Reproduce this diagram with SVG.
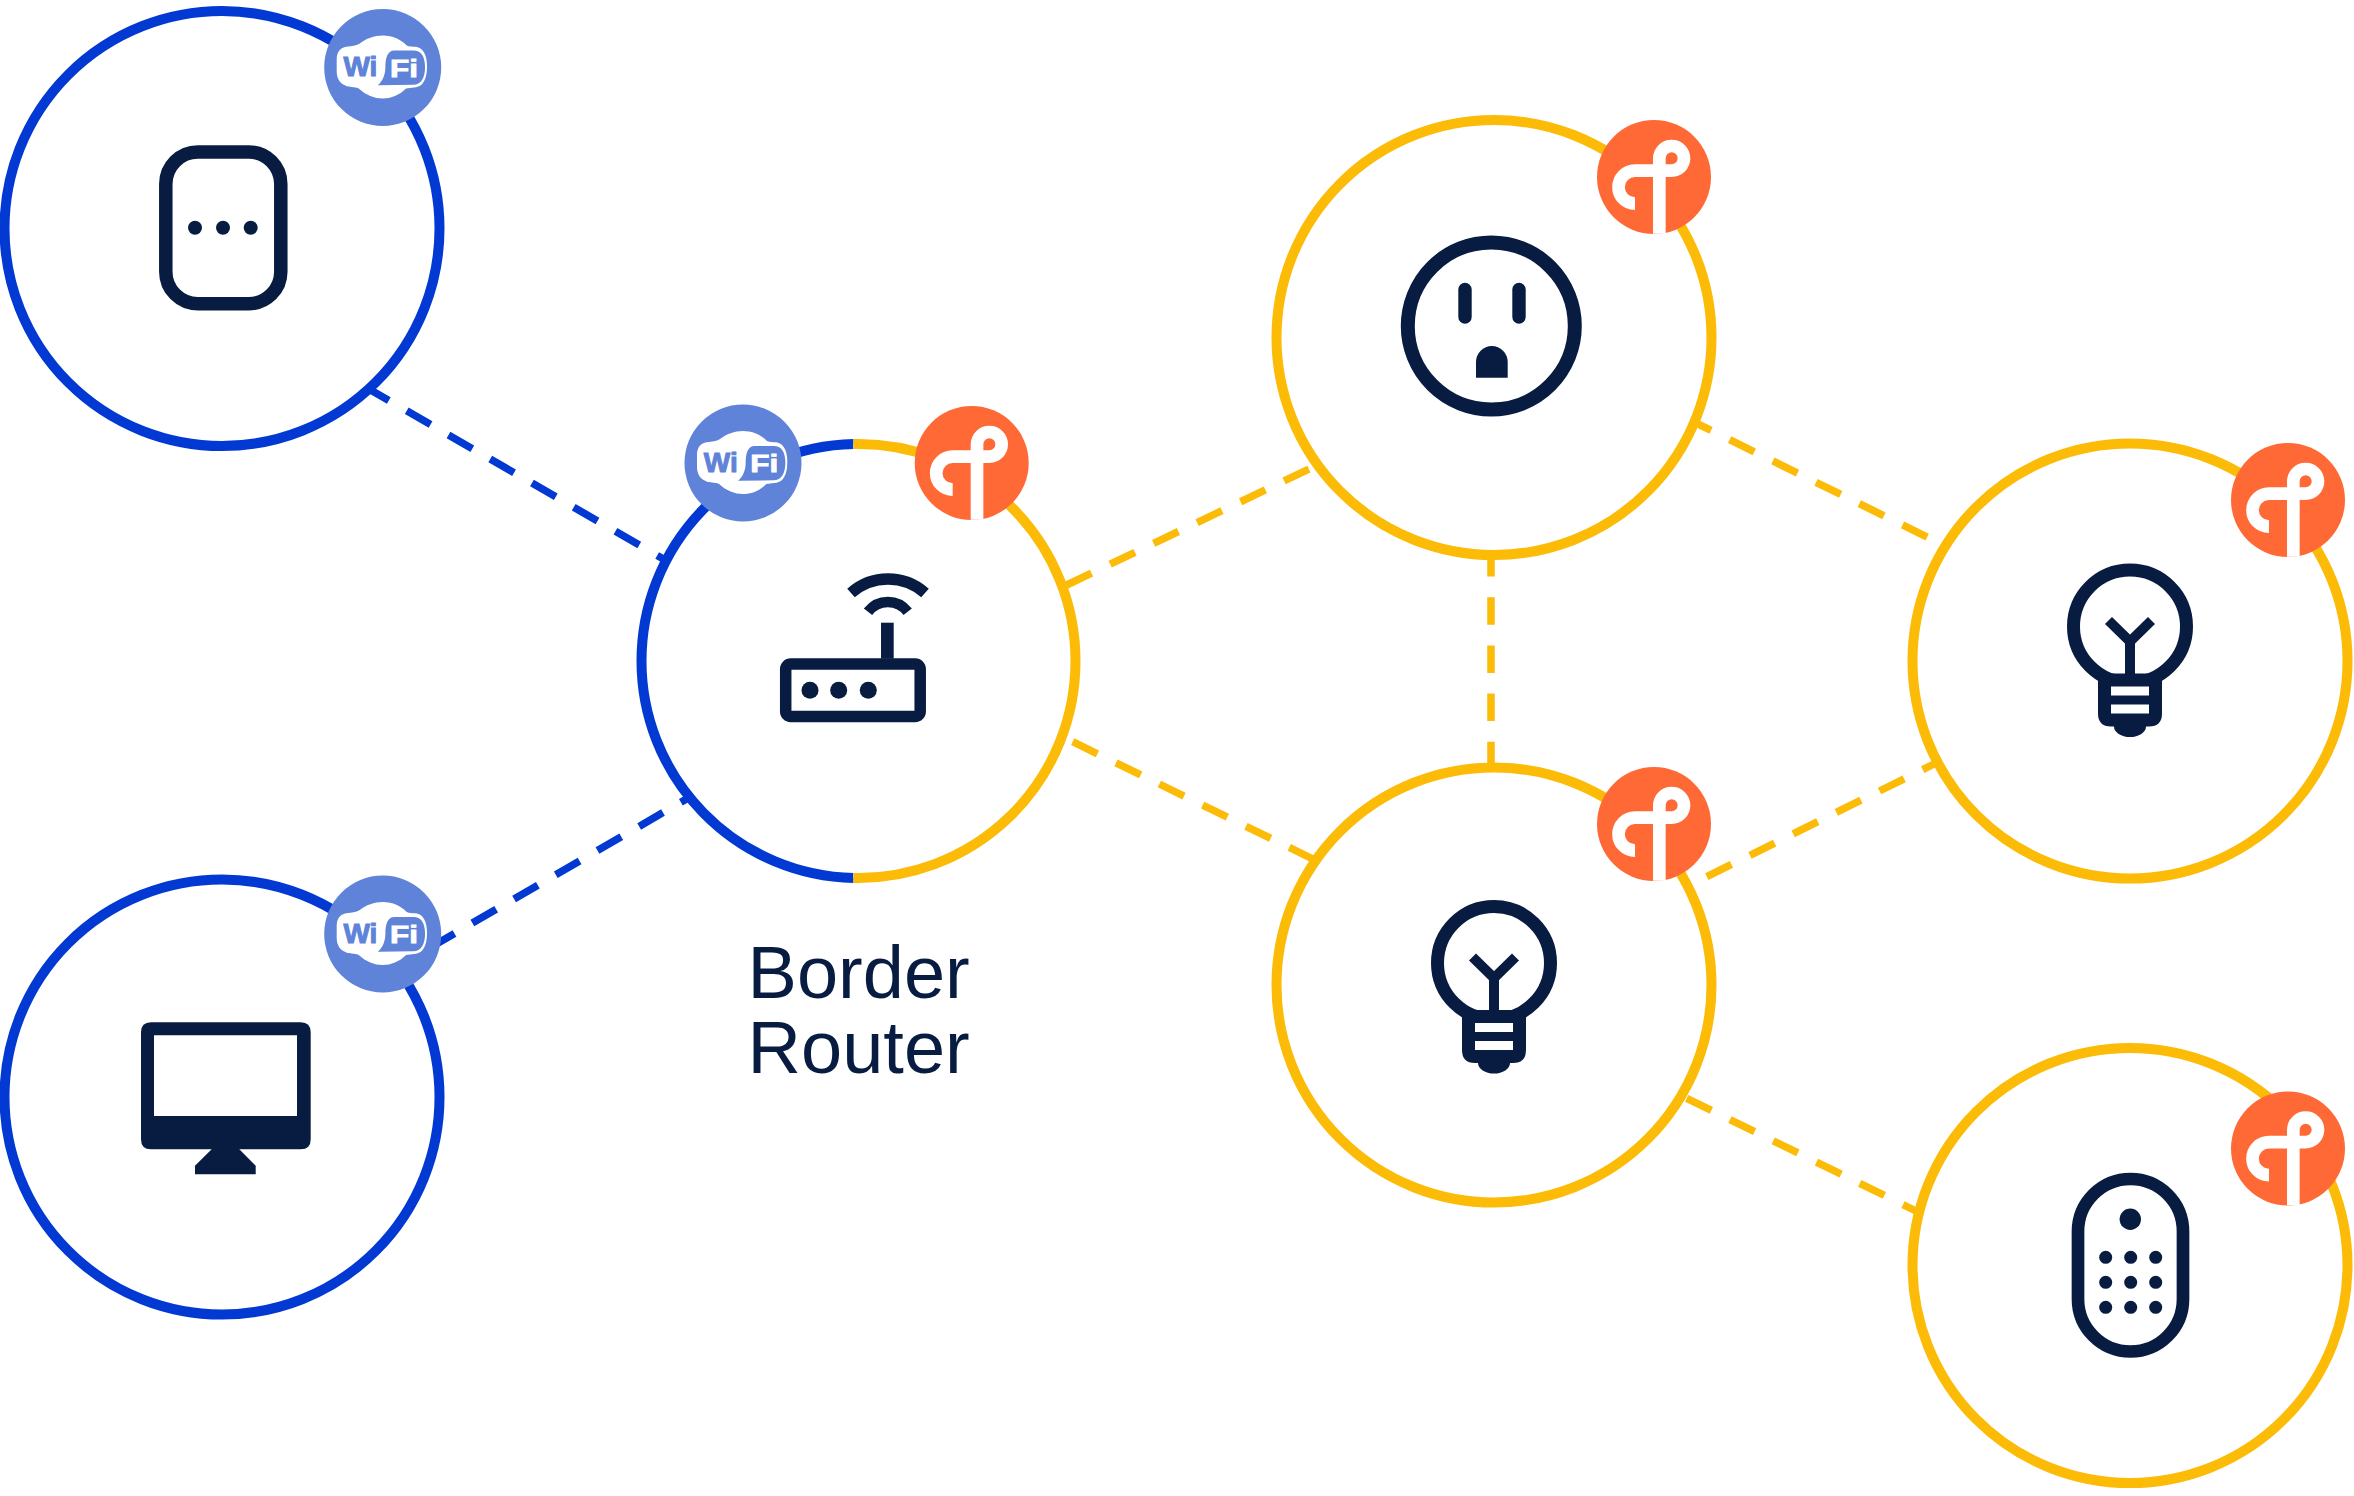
<svg xmlns="http://www.w3.org/2000/svg" width="2354" height="1496" viewBox="0 0 2354 1496">
<style>
.ring{fill:#fff;stroke-width:10}
.b{stroke:#0339d3}.y{stroke:#fcbb07}
.wc{stroke-width:7.500;stroke-dasharray:27.500 20.700;fill:none}
.n{fill:#081c42}
.s{fill:none;stroke:#081c42}
.w{fill:#fff}
.wb{fill:#5e83d8}
.wt{font-family:"Liberation Sans",Arial,sans-serif;font-weight:700}
.wi{fill:#5e83d8;stroke:#5e83d8;stroke-width:1;font-size:28px}
.fi{fill:#fff;stroke:#fff;stroke-width:.8;font-size:24px}
.lab{font-family:"Liberation Sans",Arial,sans-serif;font-size:74px;fill:#081c42}
</style>
<defs>
<g id="wifi">
<circle r="58.500" class="wb"/>
<g transform="translate(-123.33,-83) scale(.33333)">
<path class="w" d="M232 225C232 200 245 187 268 186C283 185 292 183 300 178C320 162 345 153 370 153C400 153 425 165 442 183C450 187 460 186 470 187C490 190 503 210 503 245C503 285 490 305 470 308L440 312C420 332 395 342 370 342C345 342 320 332 298 312C285 305 270 310 258 303C240 295 232 280 232 260Z"/>
<path class="wb" d="M405 198L462 198C485 198 497 215 497 248C497 280 485 300 462 301L355 302C370 290 378 270 378 248C378 220 385 198 405 198Z"/>
</g>
</g>
<g id="thread">
<circle r="57" fill="#ff6936"/>
<path transform="translate(-351.67,-83) scale(.33333)" fill="none" stroke="#fff" stroke-width="38" d="M1071 419V193A37 37 0 1 1 1108 230H998A49.500 49.500 0 0 0 998 329"/>
</g>
<g id="bulb">
<circle cx="0" cy="0" r="56.500" class="s" stroke-width="13"/>
<path class="n" d="M-32 47H32V87Q32 100 19 100H16A16 10.500 0 0 1 -16 100H-19Q-32 100 -32 87Z"/>
<path class="w" d="M-19 60H19V69H-19ZM-19 78H19V87H-19Z"/>
<path class="s" stroke-width="10" d="M-21.500 -6L0 15L21.500 -6M0 15V48"/>
</g>
</defs>

<g id="connectors">
<path class="wc b" d="M365 386.700L666 560.500"/>
<path class="wc b" d="M430.700 947.300L689 797.500"/>
<path class="wc y" d="M1066.700 585L1309 469"/>
<path class="wc y" d="M1072.700 741.700L1316 860.500"/>
<path class="wc y" d="M1686.400 418.300L1927.500 537.300"/>
<path class="wc y" d="M1491 549V766"/>
<path class="wc y" d="M1706.800 876.700L1938 762"/>
<path class="wc y" d="M1686.700 1098.300L1918 1212"/>
</g>

<g id="node-phone">
<circle class="ring b" cx="222" cy="228.500" r="217.500"/>
<rect class="s" stroke-width="13.500" x="165.800" y="152" width="115" height="151.700" rx="32"/>
<circle class="n" cx="195" cy="227.700" r="7"/><circle class="n" cx="223" cy="227.700" r="7"/><circle class="n" cx="250.700" cy="227.700" r="7"/>
<g transform="translate(382.700,67.500)"><use href="#wifi"/>
<text class="wt wi" x="-39.300" y="8.700">Wi</text><text class="wt fi" x="7.300" y="9" textLength="28" lengthAdjust="spacingAndGlyphs">Fi</text></g>
</g>

<g id="node-monitor">
<circle class="ring b" cx="222" cy="1097" r="217.500"/>
<path class="n" fill-rule="evenodd" d="M151 1022.300H300.700Q310.700 1022.300 310.700 1032.300V1139.300Q310.700 1149.300 300.700 1149.300H239.300L255.700 1165.700V1174.300H195V1165.700L211.700 1149.300H151Q141 1149.300 141 1139.300V1032.300Q141 1022.300 151 1022.300ZM154 1035.300V1116H297V1035.300Z"/>
<g transform="translate(382.700,934)"><use href="#wifi"/>
<text class="wt wi" x="-39.300" y="8.700">Wi</text><text class="wt fi" x="7.300" y="9" textLength="28" lengthAdjust="spacingAndGlyphs">Fi</text></g>
</g>

<g id="node-border-router">
<path class="ring b" d="M853.500 444.060A217 217 0 0 0 641.500 661A217 217 0 0 0 853.500 877.940"/>
<path class="ring y" d="M853.500 444.060A217 217 0 0 1 1075.500 661A217 217 0 0 1 853.500 877.940"/>
<rect class="s" stroke-width="11.500" x="785.700" y="664" width="134.500" height="52.500" rx="5"/>
<circle class="n" cx="810" cy="690.300" r="8.500"/><circle class="n" cx="838.700" cy="690.300" r="8.500"/><circle class="n" cx="868.300" cy="690.300" r="8.500"/>
<rect class="n" x="881" y="622.700" width="12.700" height="36"/>
<path class="s" stroke-width="11.500" d="M851 593A56 56 0 0 1 925 593"/>
<path class="s" stroke-width="10.500" d="M868 611.700A25 25 0 0 1 907.700 611.700"/>
<g transform="translate(743,463)"><use href="#wifi"/>
<text class="wt wi" x="-39.300" y="8.700">Wi</text><text class="wt fi" x="7.300" y="9" textLength="28" lengthAdjust="spacingAndGlyphs">Fi</text></g>
<use href="#thread" x="971.700" y="463"/>
<text class="lab" x="747.600" y="997.700">Border</text>
<text class="lab" x="747.600" y="1072.700">Router</text>
</g>

<g id="node-outlet">
<circle class="ring y" cx="1494" cy="337.500" r="217.500"/>
<circle class="s" stroke-width="14" cx="1491.300" cy="326" r="83.500"/>
<rect class="n" x="1458.300" y="282.700" width="13.400" height="41" rx="6.700"/>
<rect class="n" x="1512.300" y="282.700" width="13.400" height="41" rx="6.700"/>
<path class="n" d="M1476 377.700V362A15.850 16 0 0 1 1507.700 362V377.700Z"/>
<use href="#thread" x="1654" y="177"/>
</g>

<g id="node-bulb-right">
<circle class="ring y" cx="2130" cy="661" r="217.500"/>
<use href="#bulb" x="2130" y="626.500"/>
<use href="#thread" x="2288" y="500"/>
</g>

<g id="node-bulb-mid">
<circle class="ring y" cx="1494" cy="985" r="217.500"/>
<use href="#bulb" x="1494" y="963"/>
<use href="#thread" x="1654" y="824"/>
</g>

<g id="node-remote">
<circle class="ring y" cx="2130" cy="1265.500" r="217.500"/>
<rect class="s" stroke-width="12.700" x="2078" y="1179" width="105" height="172.500" rx="52.500"/>
<circle class="n" cx="2130.300" cy="1219.300" r="10.700"/>
<g class="n">
<circle cx="2105.700" cy="1257.300" r="6.500"/><circle cx="2130.700" cy="1257.300" r="6.500"/><circle cx="2155.700" cy="1257.300" r="6.500"/>
<circle cx="2105.700" cy="1282.300" r="6.500"/><circle cx="2130.700" cy="1282.300" r="6.500"/><circle cx="2155.700" cy="1282.300" r="6.500"/>
<circle cx="2105.700" cy="1307.300" r="6.500"/><circle cx="2130.700" cy="1307.300" r="6.500"/><circle cx="2155.700" cy="1307.300" r="6.500"/>
</g>
<use href="#thread" x="2288" y="1148.500"/>
</g>
</svg>
